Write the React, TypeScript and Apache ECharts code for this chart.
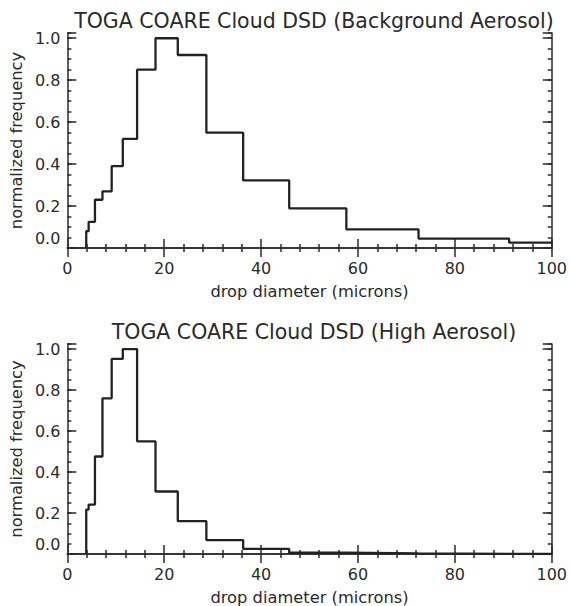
import React, { useEffect, useRef } from "react";
import * as echarts from "echarts";

// Bin edges of the drop diameter histogram (microns)
const binEdges = [3.9, 4.4, 5.7, 7.25, 9.15, 11.45, 14.4, 18.2, 22.8, 28.7, 36.3, 45.8, 57.6, 72.5, 91.2, 100];
// Normalized frequency per bin, background aerosol case
const backgroundFreq = [0.08, 0.125, 0.23, 0.27, 0.39, 0.52, 0.85, 1.0, 0.92, 0.55, 0.322, 0.189, 0.089, 0.045, 0.026];
// Normalized frequency per bin, high aerosol case
const highFreq = [0.217, 0.241, 0.476, 0.76, 0.952, 1.0, 0.55, 0.305, 0.16, 0.068, 0.025, 0.006, 0.003, 0.001, 0.0];

const titles = ["TOGA COARE Cloud DSD (Background Aerosol)", "TOGA COARE Cloud DSD (High Aerosol)"];
const xName = "drop diameter (microns)";
const yName = "normalized frequency";

const FONT = "DejaVu Sans";
const INK = "#2a2a2a";
const YMAX = 1.025;

function stepPoints(edges: number[], vals: number[]) {
  const pts: number[][] = [[edges[0], 0]];
  for (let i = 0; i < vals.length; i++) {
    pts.push([edges[i], vals[i]]);
    pts.push([edges[i + 1], vals[i]]);
  }
  return pts;
}

export default function App() {
  const ref = useRef<HTMLDivElement>(null);
  useEffect(() => {
    if (!ref.current) return;
    const chart = echarts.init(ref.current, null, { renderer: "svg" });
    const grids = [
      { left: 64, top: 33, width: 489, height: 215 },
      { left: 64, top: 344, width: 489, height: 214 },
    ];
    const lineStyle = { color: INK, width: 1.5 };
    const xAxes: any[] = [];
    const yAxes: any[] = [];
    grids.forEach((_, g) => {
      xAxes.push({
        gridIndex: g, type: "value", min: 0, max: 100, interval: 20, position: "bottom",
        axisLine: { show: true, lineStyle },
        axisTick: { show: true, inside: true, length: 9, lineStyle },
        minorTick: { show: true, splitNumber: 5, length: 4, lineStyle },
        splitLine: { show: false },
        axisLabel: { margin: 12, fontSize: 16, color: INK, fontFamily: FONT },
        name: xName, nameLocation: "middle", nameGap: 35,
        nameTextStyle: { fontSize: 16.3, color: INK, fontFamily: FONT },
      });
      xAxes.push({
        gridIndex: g, type: "value", min: 0, max: 100, interval: 20, position: "top",
        axisLine: { show: true, lineStyle },
        axisTick: { show: true, inside: true, length: 9, lineStyle },
        minorTick: { show: true, splitNumber: 5, length: 4, lineStyle },
        splitLine: { show: false },
        axisLabel: { show: false },
      });
      yAxes.push({
        gridIndex: g, type: "value", min: 0, max: YMAX, interval: 0.2, position: "left",
        axisLine: { show: true, lineStyle },
        axisTick: { show: true, inside: true, length: 9, lineStyle },
        splitLine: { show: false },
        axisLabel: {
          margin: 7, fontSize: 16, color: INK, fontFamily: FONT,
          formatter: (v: number) => {
            if (v > 1.0001) return "";
            if (Math.abs(v) < 1e-9) return "{z|0.0}";
            return v.toFixed(1);
          },
          rich: { z: { fontSize: 16, color: INK, fontFamily: FONT, padding: [0, 0, 20, 0] } },
        },
        name: yName, nameLocation: "middle", nameGap: 39,
        nameTextStyle: { fontSize: 16.3, color: INK, fontFamily: FONT },
      });
      yAxes.push({
        gridIndex: g, type: "value", min: 0, max: YMAX, interval: 0.05, position: "left",
        axisLine: { show: false },
        axisTick: { show: true, inside: true, length: 4, lineStyle },
        splitLine: { show: false },
        axisLabel: { show: false },
      });
      yAxes.push({
        gridIndex: g, type: "value", min: 0, max: YMAX, interval: 0.2, position: "right",
        axisLine: { show: true, lineStyle },
        axisTick: { show: true, inside: true, length: 9, lineStyle },
        splitLine: { show: false },
        axisLabel: { show: false },
      });
      yAxes.push({
        gridIndex: g, type: "value", min: 0, max: YMAX, interval: 0.05, position: "right",
        axisLine: { show: false },
        axisTick: { show: true, inside: true, length: 4, lineStyle },
        splitLine: { show: false },
        axisLabel: { show: false },
      });
    });
    const datasets = [backgroundFreq, highFreq];
    chart.setOption({
      animation: false,
      backgroundColor: "#ffffff",
      title: titles.map((t, i) => ({
        text: t, left: 309, top: 5 + i * 311, textAlign: "center",
        textStyle: { fontSize: 20.5, fontWeight: "normal", color: INK, fontFamily: FONT },
      })),
      grid: grids,
      xAxis: xAxes,
      yAxis: yAxes,
      series: datasets.map((vals, i) => ({
        type: "line",
        xAxisIndex: i * 2,
        yAxisIndex: i * 4,
        symbol: "none",
        clip: true,
        lineStyle: { color: "#222", width: 2.3 },
        data: stepPoints(binEdges, vals),
      })),
    });
    return () => chart.dispose();
  }, []);
  return <div ref={ref} style={{ position: "absolute", left: 0, top: 0, width: 570, height: 606 }} />;
}
